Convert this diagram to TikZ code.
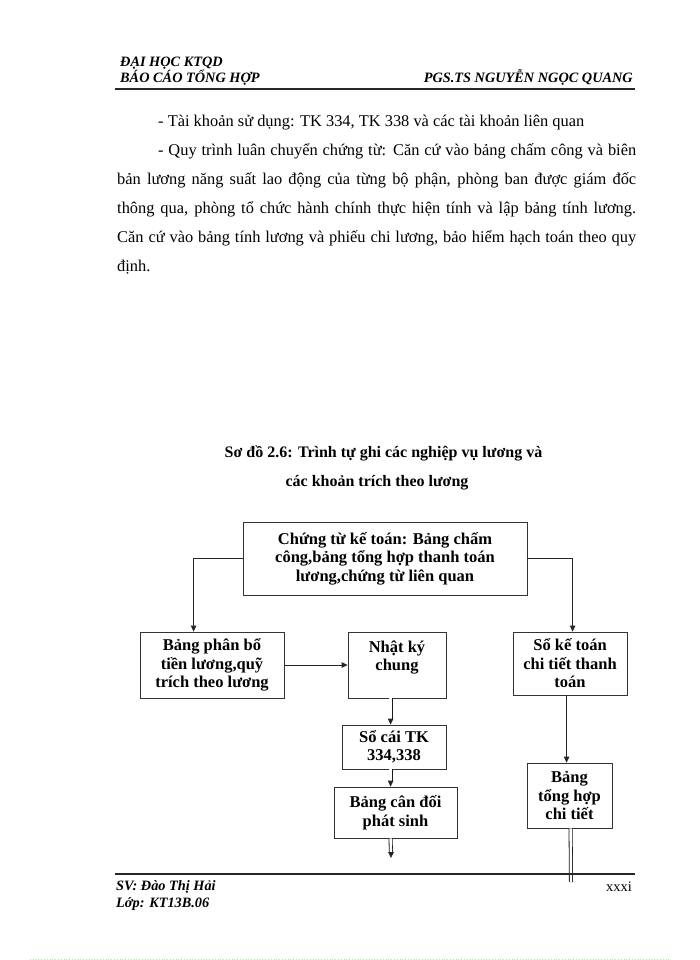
\documentclass[tikz,border=0pt]{standalone}
\usepackage{fontspec}
\setmainfont{Liberation Serif}
\usetikzlibrary{arrows.meta}

\begin{document}
\begin{tikzpicture}[x=1pt,y=-1pt,
  box/.style={draw=black!80,line width=0.8pt,align=center,inner sep=0pt,
    font=\fontsize{16.5}{18.5}\selectfont\bfseries},
  line/.style={draw=black!85,line width=0.8pt},
  arr/.style={line,-{Triangle[length=6pt,width=5.5pt]}},
  dbl/.style={draw=black!90,double,double distance=2.4pt,line width=0.8pt},
  hd/.style={inner sep=0pt,font=\fontsize{14.3}{16}\selectfont\bfseries\itshape},
  txt/.style={inner sep=0pt,anchor=base west,font=\fontsize{16.4}{20}\selectfont},
  ttl/.style={inner sep=0pt,anchor=base,font=\fontsize{16}{18}\selectfont\bfseries}]
\useasboundingbox (0,0) rectangle (700,960);

% header
\node[hd,anchor=base west] (uni) at (120,67) {ĐẠI HỌC KTQD};
\node[hd,anchor=base west] (rep) at (120,83) {BÁO CÁO TỔNG HỢP};
\node[hd,anchor=base east] (prof) at (633,83) {PGS.TS NGUYỄN NGỌC QUANG};
\draw[line width=1.6pt,black!85] (115,89) -- (635,89);

% text
\node[txt] (l1) at (158,127) {- Tài khoản sử dụng: TK 334, TK 338 và các tài khoản liên quan};
\node[txt] (l2) at (158,155.8) {\makebox[478pt][s]{- Quy trình luân chuyển chứng từ: Căn cứ vào bảng chấm công và biên}};
\node[txt] (l3) at (117,184.6) {\makebox[519pt][s]{bản lương năng suất lao động của từng bộ phận, phòng ban được giám đốc}};
\node[txt] (l4) at (117,213.4) {\makebox[519pt][s]{thông qua, phòng tổ chức hành chính thực hiện tính và lập bảng tính lương.}};
\node[txt] (l5) at (117,242.2) {\makebox[519pt][s]{Căn cứ vào bảng tính lương và phiếu chi lương, bảo hiểm hạch toán theo quy}};
\node[txt] (l6) at (117,271) {định.};

% title
\node[ttl] (t1) at (383.5,457) {Sơ đồ 2.6: Trình tự ghi các nghiệp vụ lương và};
\node[ttl] (t2) at (377,486) {các khoản trích theo lương};

% boxes
\node[box,minimum width=284pt,minimum height=73pt] (top) at (385,558.5)
  {Chứng từ kế toán: Bảng chấm\\công,bảng tổng hợp thanh toán\\lương,chứng từ liên quan};
\node[box,minimum width=144pt,minimum height=66pt] (phanbo) at (212,665)
  {Bảng phân bổ\\tiền lương,quỹ\\trích theo lương};
\node[box,minimum width=98pt,minimum height=66pt] (nhatky) at (397,665)
  {Nhật ký\\chung\\~};
\node[box,minimum width=114pt,minimum height=63pt] (sokt) at (570,663.5)
  {Sổ kế toán\\chi tiết thanh\\toán};
\node[box,minimum width=104pt,minimum height=44pt] (socai) at (394,747)
  {Sổ cái TK\\334,338};
\node[box,minimum width=123pt,minimum height=51pt] (candoi) at (395.5,812.5)
  {Bảng cân đối\\phát sinh};
\node[box,minimum width=85pt,minimum height=65pt] (tonghop) at (569.5,795.5)
  {Bảng\\tổng hợp\\chi tiết};

% connectors
\coordinate (nk) at ([xshift=43pt]nhatky.south west);
\coordinate (scin) at (nk |- socai.north);
\coordinate (scout) at (nk |- socai.south);
\coordinate (cdin) at (nk |- candoi.north);
\coordinate (cdout) at (nk |- candoi.south);
\coordinate (cdend) at (391,858);
\coordinate (ktout) at ([xshift=54pt]sokt.south west);
\coordinate (thin) at (ktout |- tonghop.north);
\coordinate (thout) at ([xshift=44pt]tonghop.south west);
\coordinate (thend) at (571,882);

\draw[arr] (top.west) -| ([xshift=54pt]phanbo.north west);
\draw[arr] (top.east) -| ([xshift=60pt]sokt.north west);
\draw[arr] (phanbo.east) -- (nhatky.west);
\draw[dbl,shorten >=6pt] (nk) -- (scin);
\draw[arr] ([yshift=6pt]scin) -- (scin);
\draw[dbl,shorten >=6pt] (scout) -- (cdin);
\draw[arr] ([yshift=6pt]cdin) -- (cdin);
\draw[dbl,shorten >=6pt] (cdout) -- (cdend);
\draw[arr] ([yshift=6pt]cdend) -- (cdend);
\draw[arr] (ktout) -- (thin);
\draw[dbl] (thout) -- (thend);

% footer
\draw[line width=1.5pt,black!85] (115,874) -- (635,874);
\node[hd,anchor=base west] (sv) at (116,890) {SV: Đào Thị Hải};
\node[hd,anchor=base west] (lop) at (116,907) {Lớp: KT13B.06};
\node[inner sep=0pt,anchor=base east,font=\fontsize{14.5}{16}\selectfont] (pg) at (632,891) {xxxi};
\draw[green!45,dotted,line width=0.8pt] (30,959) -- (670,959);
\end{tikzpicture}
\end{document}
